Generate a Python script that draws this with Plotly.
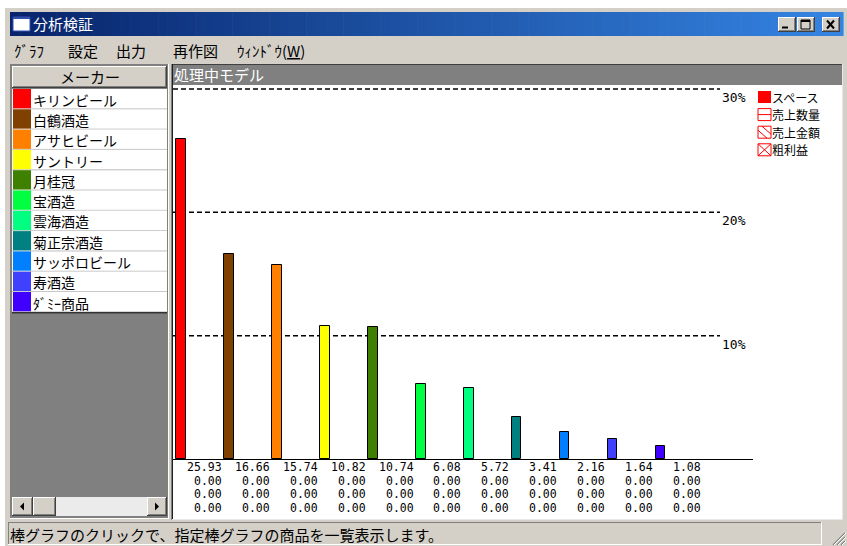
import plotly.graph_objects as go

# ---------------- data ----------------
makers = ["キリンビール", "白鶴酒造", "アサヒビール", "サントリー", "月桂冠", "宝酒造",
          "雲海酒造", "菊正宗酒造", "サッポロビール", "寿酒造", "ﾀﾞﾐｰ商品"]
maker_colors = ["#ff0000", "#804000", "#ff8000", "#ffff00", "#408000", "#00ff40",
                "#00ff80", "#008080", "#0080ff", "#4040ff", "#4000ff"]
space_share = [25.93, 16.66, 15.74, 10.82, 10.74, 6.08, 5.72, 3.41, 2.16, 1.64, 1.08]
sales_qty_share = [0.00, 0.00, 0.00, 0.00, 0.00, 0.00, 0.00, 0.00, 0.00, 0.00, 0.00]
sales_amount_share = [0.00, 0.00, 0.00, 0.00, 0.00, 0.00, 0.00, 0.00, 0.00, 0.00, 0.00]
gross_profit_share = [0.00, 0.00, 0.00, 0.00, 0.00, 0.00, 0.00, 0.00, 0.00, 0.00, 0.00]
grid_values = [10, 20, 30]
grid_labels = ["10%", "20%", "30%"]
legend_labels = ["スペース", "売上数量", "売上金額", "粗利益"]
menu_items = ["ｸﾞﾗﾌ", "設定", "出力", "再作図",
              "ｳｨﾝﾄﾞｳ(<span style='text-decoration:underline'>W</span>)"]
window_title = "分析検証"
panel_header = "メーカー"
chart_header = "処理中モデル"
status_text = "棒グラフのクリックで、指定棒グラフの商品を一覧表示します。"

# ---------------- geometry / style ----------------
W, H = 847, 546
JP = "Noto Sans CJK JP, Noto Sans, sans-serif"
MONO = "DejaVu Sans Mono, monospace"
FACE = "#d4d0c8"


def X(p):
    return p / W


def Y(p):
    return 1 - p / H


shapes, annotations = [], []


def rect(x0, y0, x1, y1, fill, line=None, lw=0, layer="below"):
    shapes.append(dict(type="rect", xref="paper", yref="paper", layer=layer,
                       x0=X(x0), x1=X(x1), y0=Y(y1), y1=Y(y0), fillcolor=fill,
                       line=dict(color=line if line else fill, width=lw)))


def seg(x0, y0, x1, y1, color, w=1, layer="below"):
    shapes.append(dict(type="line", xref="paper", yref="paper", layer=layer,
                       x0=X(x0), y0=Y(y0), x1=X(x1), y1=Y(y1),
                       line=dict(color=color, width=w)))


def txt(x, y, s, size=15, color="#000000", xanchor="left", family=JP):
    annotations.append(dict(xref="paper", yref="paper", x=X(x), y=Y(y), text=s,
                            showarrow=False, xanchor=xanchor, yanchor="middle",
                            borderpad=0, align="left",
                            font=dict(family=family, size=size, color=color)))


def raised(x0, y0, x1, y1, face=FACE):
    rect(x0, y0, x1, y1, face)
    seg(x0, y0 + 0.5, x1, y0 + 0.5, "#ffffff")
    seg(x0 + 0.5, y0, x0 + 0.5, y1, "#ffffff")
    seg(x0, y1 - 0.5, x1, y1 - 0.5, "#404040")
    seg(x1 - 0.5, y0, x1 - 0.5, y1, "#404040")
    seg(x0 + 1, y1 - 1.5, x1 - 1, y1 - 1.5, "#808080")
    seg(x1 - 1.5, y0 + 1, x1 - 1.5, y1 - 1, "#808080")


def sunken(x0, y0, x1, y1):
    seg(x0, y0 + 0.5, x1, y0 + 0.5, "#808080")
    seg(x0 + 0.5, y0, x0 + 0.5, y1, "#808080")
    seg(x0, y1 - 0.5, x1, y1 - 0.5, "#ffffff")
    seg(x1 - 0.5, y0, x1 - 0.5, y1, "#ffffff")


# window frame
rect(4, 7, W, H, FACE)
seg(4, 7.5, W, 7.5, "#ffffff")
seg(4.5, 7, 4.5, H, "#ffffff")

# title bar gradient
c0, c1 = (8, 36, 107), (52, 132, 226)
tx0, tx1, ty0, ty1 = 10, 843, 12, 36
N = 90
for k in range(N):
    t = k / (N - 1)
    col = "rgb(%d,%d,%d)" % tuple(round(a + (b - a) * t) for a, b in zip(c0, c1))
    xa = tx0 + (tx1 - tx0) * k / N
    xb = tx0 + (tx1 - tx0) * (k + 1) / N + 0.6
    rect(xa, ty0, xb, ty1, col)
# icon
rect(13, 17, 30, 31, "#ffffff", line="#3050b0", lw=1)
rect(13, 17, 30, 19, "#3050b0")
txt(32, 24, window_title, size=15, color="#ffffff")
# caption buttons
btns = [(778, 796), (797, 815), (822, 840)]
for bx0, bx1 in btns:
    raised(bx0, 17, bx1, 32)
b = btns[0]
seg(b[0] + 4, 27.5, b[0] + 10, 27.5, "#000000", 2)
b = btns[1]
rect(b[0] + 4, 20, b[1] - 5, 29, "rgba(0,0,0,0)", line="#000000", lw=1)
seg(b[0] + 4, 21, b[1] - 5, 21, "#000000", 2)
b = btns[2]
seg(b[0] + 5, 20.5, b[1] - 6, 28.5, "#000000", 2)
seg(b[0] + 5, 28.5, b[1] - 6, 20.5, "#000000", 2)

# menu bar
menu_x = [13, 67, 115, 172, 236]
for mx, m in zip(menu_x, menu_items):
    txt(mx, 50, m, size=15)

# ---------------- left maker panel ----------------
rect(10, 64, 169, 519, "#808080")
sunken(10, 64, 169, 519)
raised(12, 66, 167, 88)
txt(89.5, 77, panel_header, size=15, xanchor="center")
row_top, row_h = 89, 20.3
for i, (name, col) in enumerate(zip(makers, maker_colors)):
    y0 = row_top + row_h * i
    y1 = y0 + row_h
    rect(12, y0, 167, y1, "#ffffff")
    seg(12, y1 - 0.5, 167, y1 - 0.5, "#c8c8c8")
    rect(13, y0, 31, y1 - 1, col)
    txt(32, y0 + row_h / 2 + 0.5, name, size=14)
seg(12, row_top + row_h * len(makers) + 0.5, 167, row_top + row_h * len(makers) + 0.5,
    "#000000")
# scrollbar
rect(12, 497, 167, 516, "#ebebeb")
raised(12, 497, 33, 516)
raised(33, 497, 56, 516)
raised(147, 497, 167, 516)
shapes.append(dict(type="path", xref="paper", yref="paper", layer="below",
                   path="M %f %f L %f %f L %f %f Z" % (X(20), Y(506.5), X(24), Y(502.5), X(24), Y(510.5)),
                   fillcolor="#000000", line=dict(width=0)))
shapes.append(dict(type="path", xref="paper", yref="paper", layer="below",
                   path="M %f %f L %f %f L %f %f Z" % (X(159), Y(506.5), X(155), Y(502.5), X(155), Y(510.5)),
                   fillcolor="#000000", line=dict(width=0)))

# ---------------- chart panel ----------------
rect(172, 64, 843, 520, "#ffffff")
rect(172, 64, 843, 85, "#808080")
seg(172, 64.5, 843, 64.5, "#404040")
seg(171.5, 64, 171.5, 520, "#808080")
seg(172.5, 64, 172.5, 520, "#202020")
seg(842.5, 64, 842.5, 520, "#e8e8e8")
seg(172, 519.5, 843, 519.5, "#e8e8e8")
txt(173, 75, chart_header, size=15, color="#ffffff")

# legend (top right)
leg_fs = 12
leg_pitch = 17.6
leg_first = 97
lx0, lx1 = 758, 771
for k, lab in enumerate(legend_labels):
    yc = leg_first + leg_pitch * k
    y0, y1 = yc - 6, yc + 6
    if k == 0:
        rect(lx0, y0, lx1, y1, "#ff0000", layer="above")
    else:
        rect(lx0, y0, lx1, y1, "#ffffff", line="#ff0000", lw=1, layer="above")
        if k == 1:
            seg(lx0, yc, lx1, yc, "#ff0000", 1, layer="above")
        elif k == 2:
            seg(lx0, y0 + 4, lx1 - 4, y1, "#ff0000", 1, layer="above")
            seg(lx0 + 4, y0, lx1, y1 - 4, "#ff0000", 1, layer="above")
        else:
            seg(lx0, y0, lx1, y1, "#ff0000", 1, layer="above")
            seg(lx0, y1, lx1, y0, "#ff0000", 1, layer="above")
    txt(771, yc, lab, size=leg_fs)

# status bar
sunken(8, 522, 822, 545)
txt(9, 534, status_text, size=15)
for d in (4, 8, 12):
    seg(845 - d, 545, 845, 545 - d, "#808080", 1.2)
    seg(846 - d, 545, 846, 545 - d, "#ffffff", 1)

# ---------------- axes geometry ----------------
zero_px, top_px = 459, 85
px_per_unit = (459 - 89) / 30.0
bar0_px, step_px = 181, 47.95
ax_left_px, ax_right_px = 173, 753
x_range = [(ax_left_px - bar0_px) / step_px, (ax_right_px - bar0_px) / step_px]
y_range = [0, (zero_px - top_px) / px_per_unit]

idx = list(range(len(makers)))
fig = go.Figure()
fig.add_trace(go.Bar(
    x=idx, y=space_share, width=0.2, name=legend_labels[0],
    marker=dict(color=maker_colors, line=dict(color="#000000", width=1)),
    hovertext=makers, showlegend=False))

# dashed gridlines + labels
for v, lab in zip(grid_values, grid_labels):
    shapes.append(dict(type="line", xref="paper", yref="y", layer="below",
                       x0=X(173), x1=X(720), y0=v, y1=v,
                       line=dict(color="#000000", width=1.5, dash="5px,3px")))
    annotations.append(dict(xref="paper", yref="y", x=X(721), y=v, text=lab,
                            showarrow=False, xanchor="left", yanchor="top", borderpad=0,
                            font=dict(family=MONO, size=13, color="#000000")))

# value labels under each bar (4 stacked rows)
val_fs = 11.5
val_pitch = 13.5
for i in idx:
    for r, series in enumerate([space_share, sales_qty_share, sales_amount_share,
                                gross_profit_share]):
        annotations.append(dict(xref="x", yref="paper", x=i + 0.87,
                                y=Y(467 + val_pitch * r), text="%.2f" % series[i],
                                showarrow=False, xanchor="right", yanchor="middle",
                                borderpad=0,
                                font=dict(family=MONO, size=val_fs, color="#000000")))

fig.update_layout(
    width=W, height=H, autosize=False,
    margin=dict(l=0, r=0, t=0, b=0),
    paper_bgcolor="#ffffff", plot_bgcolor="rgba(0,0,0,0)",
    showlegend=False,
    xaxis=dict(domain=[X(ax_left_px), X(ax_right_px)], range=x_range,
               showgrid=False, zeroline=False, showticklabels=False, ticks="",
               showline=True, linecolor="#000000", linewidth=1, fixedrange=True),
    yaxis=dict(domain=[Y(zero_px), Y(top_px)], range=y_range,
               showgrid=False, zeroline=False, showticklabels=False, ticks="",
               showline=False, fixedrange=True),
    shapes=shapes, annotations=annotations,
    bargap=0,
)

fig.write_html("out.html", config=dict(displayModeBar=False),
               post_script="document.body.style.margin='0px';document.body.style.overflow='hidden';")
